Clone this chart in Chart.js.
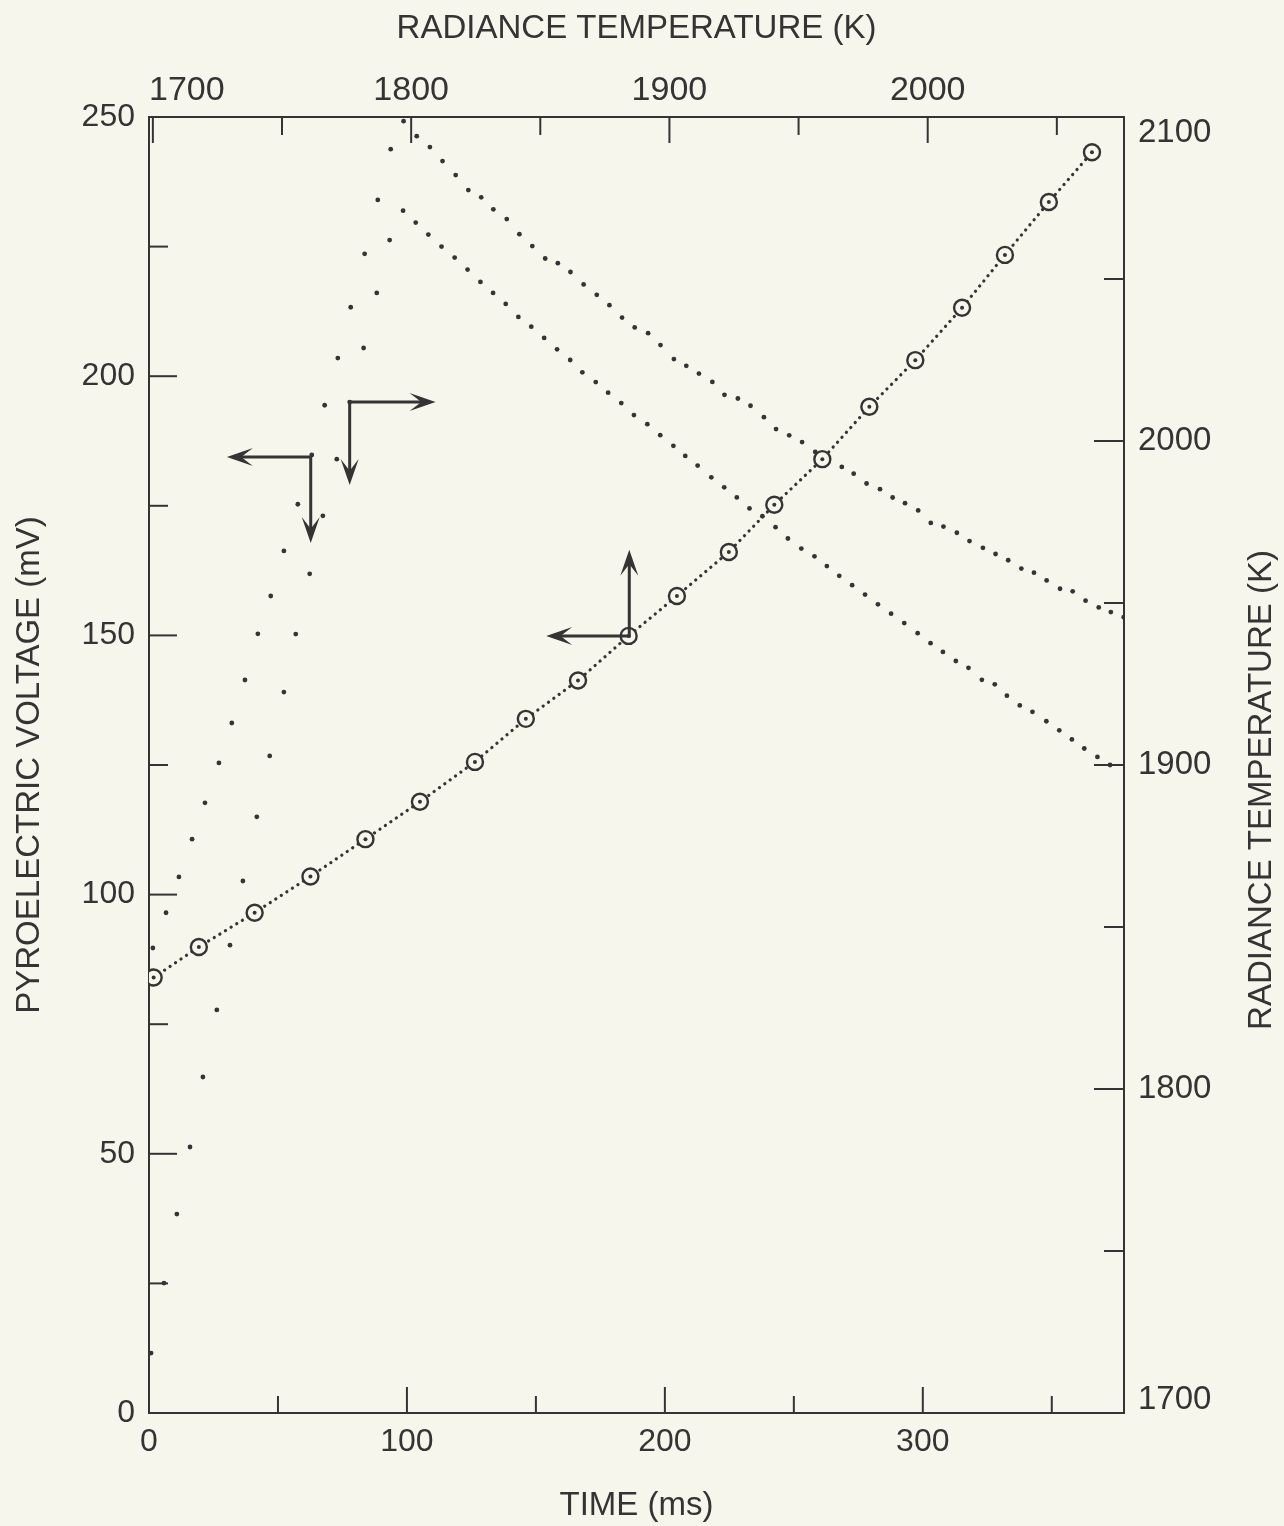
<!DOCTYPE html>
<html>
<head>
<meta charset="utf-8">
<title>Pyroelectric voltage and radiance temperature</title>
<script src="https://cdn.jsdelivr.net/npm/chart.js@4.4.1/dist/chart.umd.min.js"></script>
<style>
  html, body { margin: 0; padding: 0; background: #f7f6ec; }
  #wrap { width: 1284px; height: 1526px; }
</style>
</head>
<body>
<div id="wrap"><canvas id="chart"></canvas></div>
<script>
// pyroelectric voltage vs time (left / bottom axes)
const voltTime = [1.5, 6.6, 11.6, 16.7, 21.7, 27.1, 32.1, 37.2, 42.2, 47.2,
  52.3, 57.7, 63.1, 68.1, 73.2, 78.2, 83.6, 88.7, 93.7, 98.7,
  103.8, 108.9, 113.8, 118.9, 123.8, 128.8, 133.5, 138.7, 143.6, 148.6,
  153.6, 158.5, 163.4, 168.5, 173.6, 178.5, 183.4, 188.3, 193.5, 198.3,
  203.5, 208.3, 213.2, 218.4, 223.1, 228.3, 233.2, 238.4, 243.1, 248.2,
  253.2, 258.3, 263.3, 268.6, 273.2, 278.2, 283.4, 288.3, 293.1, 298.2,
  303.1, 308.0, 313.2, 318.1, 323.3, 328.2, 333.1, 338.2, 343.1, 348.0,
  353.2, 358.1, 363.1, 368.2, 372.9, 377.9];
const voltage = [89.7, 96.5, 103.4, 110.7, 117.7, 125.4, 133.1, 141.4, 150.3, 157.6,
  166.3, 175.3, 184.8, 194.4, 203.5, 213.3, 223.6, 234.0, 243.8, 249.2,
  246.3, 244.2, 241.5, 238.8, 235.9, 234.5, 232.2, 230.3, 227.4, 225.1,
  222.7, 221.8, 220.1, 217.7, 215.7, 213.7, 211.3, 209.4, 208.3, 206.0,
  203.3, 202.0, 200.5, 198.9, 196.4, 195.7, 194.3, 192.1, 189.8, 188.6,
  187.3, 185.4, 184.0, 182.5, 181.2, 179.3, 178.2, 176.6, 175.5, 174.1,
  171.7, 171.0, 169.8, 168.2, 166.9, 165.7, 164.5, 162.9, 162.1, 160.6,
  159.0, 158.5, 156.7, 155.4, 154.5, 153.5];

// radiance temperature vs time (right / bottom axes)
const tempTime = [0.8, 5.8, 10.8, 15.9, 20.9, 26.3, 31.4, 36.4, 41.8, 46.8,
  52.3, 56.9, 62.3, 67.4, 72.8, 77.8, 83.2, 88.3, 93.3, 98.5,
  103.4, 108.3, 113.4, 118.5, 123.5, 128.5, 133.4, 138.3, 143.2, 148.2,
  153.2, 158.2, 163.3, 168.0, 173.2, 178.0, 183.1, 188.0, 193.2, 198.2,
  203.3, 207.9, 212.7, 218.0, 223.0, 227.9, 232.8, 237.8, 242.9, 247.7,
  252.9, 258.0, 262.8, 267.6, 272.6, 277.6, 282.6, 287.7, 292.8, 298.0,
  303.0, 307.8, 312.8, 317.7, 322.9, 327.9, 332.6, 337.6, 342.5, 347.9,
  352.9, 357.8, 362.6, 367.7, 372.6];
const temperature = [1718.5, 1740.1, 1761.4, 1782.1, 1803.7, 1824.4, 1844.4, 1864.2, 1884.0, 1902.8,
  1922.5, 1940.4, 1959.0, 1976.9, 1994.4, 2012.0, 2028.7, 2045.7, 2062.0, 2071.1,
  2067.4, 2063.7, 2060.0, 2056.6, 2052.9, 2049.1, 2045.7, 2042.3, 2038.3, 2035.3,
  2031.8, 2028.3, 2025.0, 2021.2, 2018.2, 2014.9, 2011.7, 2008.0, 2005.2, 2001.8,
  1998.5, 1995.4, 1992.4, 1988.8, 1985.7, 1982.6, 1979.2, 1976.8, 1973.4, 1969.9,
  1966.8, 1964.4, 1961.4, 1958.4, 1955.5, 1952.6, 1949.6, 1946.7, 1943.8, 1940.7,
  1937.6, 1934.9, 1932.1, 1930.0, 1926.3, 1924.9, 1921.4, 1918.4, 1916.4, 1913.5,
  1910.7, 1907.9, 1905.1, 1902.5, 1900.0];

// calibration points: voltage vs radiance temperature (left / top axes)
const calTemp = [1700.3, 1717.8, 1739.4, 1761.0, 1782.3, 1803.4, 1824.7, 1844.4, 1864.6, 1884.2,
  1902.9, 1923.0, 1940.6, 1959.2, 1977.4, 1995.2, 2013.3, 2029.9, 2046.9, 2063.6];
const calVolt = [84.0, 89.9, 96.5, 103.5, 110.7, 117.9, 125.6, 133.9, 141.3, 149.9,
  157.6, 166.1, 175.2, 184.0, 194.1, 203.1, 213.2, 223.4, 233.6, 243.2];

// tick values
const timeTicks = [0, 100, 200, 300];
const timeMinor = [50, 150, 250, 350];
const topTicks = [1700, 1800, 1900, 2000];
const topMinor = [1750, 1850, 1950, 2050];
const voltTicks = [0, 50, 100, 150, 200, 250];
const voltMinor = [25, 75, 125, 175, 225];
const rightTicks = [1700, 1800, 1900, 2000, 2100];
const rightMinor = [1750, 1850, 1950, 2050];

// reading arrows: corner (time, mV), end of horizontal leg (time), end of vertical leg (mV)
const arrows = [
  { corner: [62.7, 184.4], hEnd: 30.2, vEnd: 167.8 },
  { corner: [77.8, 195.0], hEnd: 111.1, vEnd: 179.0 },
  { corner: [186.2, 149.9], hEnd: 154.0, vEnd: 166.5 }
];

const INK = '#343434';
const BG = '#f7f6ec';
const FONT = '"Liberation Sans", Arial, Helvetica, sans-serif';

const pts = (xs, ys) => xs.map((x, i) => ({ x: x, y: ys[i] }));
const fixTicks = list => scale => { scale.ticks = list.map(v => ({ value: v })); };
const plain = v => String(v);

const bgPlugin = {
  id: 'paper',
  beforeDraw(chart) {
    const ctx = chart.ctx;
    ctx.save();
    ctx.fillStyle = BG;
    ctx.fillRect(0, 0, chart.width, chart.height);
    ctx.restore();
  }
};

// ticks point into the plot; top and right labels are kept inside the frame ends
const tickPlugin = {
  id: 'inwardTicks',
  afterDraw(chart) {
    const { ctx, chartArea: a, scales } = chart;
    ctx.save();
    ctx.strokeStyle = INK;
    ctx.lineWidth = 2;
    const mark = (scale, values, len) => values.forEach(v => {
      const p = scale.getPixelForValue(v);
      ctx.beginPath();
      if (scale.position === 'bottom') { ctx.moveTo(p, a.bottom); ctx.lineTo(p, a.bottom - len); }
      if (scale.position === 'top') { ctx.moveTo(p, a.top); ctx.lineTo(p, a.top + len); }
      if (scale.position === 'left') { ctx.moveTo(a.left, p); ctx.lineTo(a.left + len, p); }
      if (scale.position === 'right') { ctx.moveTo(a.right, p); ctx.lineTo(a.right - len, p); }
      ctx.stroke();
    });
    mark(scales.x, timeTicks, 26); mark(scales.x, timeMinor, 17);
    mark(scales.x2, topTicks, 26); mark(scales.x2, topMinor, 18);
    mark(scales.y, voltTicks, 28); mark(scales.y, voltMinor, 19);
    mark(scales.y2, rightTicks, 30); mark(scales.y2, rightMinor, 20);

    ctx.fillStyle = INK;
    ctx.font = '34px ' + FONT;
    ctx.textBaseline = 'alphabetic';
    ctx.textAlign = 'center';
    topTicks.forEach(v => {
      const txt = plain(v);
      const w = ctx.measureText(txt).width;
      const p = Math.max(scales.x2.getPixelForValue(v), a.left + w / 2);
      ctx.fillText(txt, p, a.top - 17);
    });
    ctx.font = '33px ' + FONT;
    ctx.textAlign = 'left';
    ctx.textBaseline = 'middle';
    rightTicks.forEach(v => {
      const p = Math.min(Math.max(scales.y2.getPixelForValue(v), a.top + 16), a.bottom - 13);
      ctx.fillText(plain(v), a.right + 14, p);
    });

    // right axis title reads bottom to top
    ctx.textAlign = 'center';
    ctx.translate(scales.y2.right - 22, (a.top + a.bottom) / 2 + 25);
    ctx.rotate(-Math.PI / 2);
    ctx.fillText('RADIANCE TEMPERATURE (K)', 0, 0);
    ctx.restore();
  }
};

const arrowPlugin = {
  id: 'arrows',
  afterDraw(chart) {
    const { ctx, scales } = chart;
    const head = (tx, ty, dx, dy) => {
      const L = 26, W = 9, nx = -dy, ny = dx;
      ctx.beginPath();
      ctx.moveTo(tx, ty);
      ctx.lineTo(tx - L * dx + W * nx, ty - L * dy + W * ny);
      ctx.lineTo(tx - 0.55 * L * dx, ty - 0.55 * L * dy);
      ctx.lineTo(tx - L * dx - W * nx, ty - L * dy - W * ny);
      ctx.closePath();
      ctx.fill();
    };
    ctx.save();
    ctx.strokeStyle = INK;
    ctx.fillStyle = INK;
    ctx.lineWidth = 3;
    arrows.forEach(ar => {
      const cx = scales.x.getPixelForValue(ar.corner[0]);
      const cy = scales.y.getPixelForValue(ar.corner[1]);
      const hx = scales.x.getPixelForValue(ar.hEnd);
      const vy = scales.y.getPixelForValue(ar.vEnd);
      const sx = Math.sign(hx - cx), sy = Math.sign(vy - cy);
      ctx.beginPath();
      ctx.moveTo(hx - sx * 10, cy); ctx.lineTo(cx, cy); ctx.lineTo(cx, vy - sy * 10);
      ctx.stroke();
      head(hx, cy, sx, 0);
      head(cx, vy, 0, sy);
    });
    ctx.restore();
  }
};

const tickFont = { family: FONT, size: 32 };
const titleFont = { family: FONT, size: 33 };
const border = { display: true, color: INK, width: 2 };
const noGrid = { display: false, drawTicks: false };

new Chart(document.getElementById('chart'), {
  type: 'scatter',
  data: {
    datasets: [
      {
        data: pts(calTemp, calVolt), xAxisID: 'x2', yAxisID: 'y',
        showLine: false, pointRadius: 2, pointBorderWidth: 0,
        pointBackgroundColor: INK, order: 0
      },
      {
        data: pts(calTemp, calVolt), xAxisID: 'x2', yAxisID: 'y',
        showLine: true, borderColor: INK, borderWidth: 3.2,
        borderDash: [0.1, 6.5], borderCapStyle: 'round', tension: 0,
        pointRadius: 8, pointBorderWidth: 2.4, pointBorderColor: INK,
        pointBackgroundColor: BG, order: 1
      },
      {
        data: pts(voltTime, voltage), xAxisID: 'x', yAxisID: 'y',
        showLine: false, pointRadius: 2.4, pointBorderWidth: 0,
        pointBackgroundColor: INK, order: 2
      },
      {
        data: pts(tempTime, temperature), xAxisID: 'x', yAxisID: 'y2',
        showLine: false, pointRadius: 2.4, pointBorderWidth: 0,
        pointBackgroundColor: INK, order: 2
      }
    ]
  },
  options: {
    responsive: true,
    maintainAspectRatio: false,
    animation: false,
    events: [],
    layout: { padding: 0 },
    plugins: { legend: { display: false }, tooltip: { enabled: false } },
    scales: {
      x: {
        type: 'linear', position: 'bottom', min: 0, max: 378,
        afterBuildTicks: fixTicks(timeTicks),
        afterFit: s => { s.height = 113; },
        grid: noGrid, border: border,
        ticks: { font: tickFont, color: INK, padding: 10, maxRotation: 0, callback: plain },
        title: { display: true, text: 'TIME (ms)', font: titleFont, color: INK, padding: { bottom: 0 } }
      },
      x2: {
        type: 'linear', axis: 'x', position: 'top', min: 1698.5, max: 2076,
        afterBuildTicks: fixTicks(topTicks),
        afterFit: s => { s.height = 117; },
        grid: noGrid, border: border,
        ticks: { display: false },
        title: { display: true, text: 'RADIANCE TEMPERATURE (K)', font: titleFont, color: INK, padding: { top: 9 } }
      },
      y: {
        type: 'linear', position: 'left', min: 0, max: 250,
        afterBuildTicks: fixTicks(voltTicks),
        afterFit: s => { s.width = 149; },
        grid: noGrid, border: border,
        ticks: { font: tickFont, color: INK, padding: 14, callback: plain },
        title: { display: true, text: 'PYROELECTRIC VOLTAGE (mV)', font: titleFont, color: INK, padding: { top: 10 } }
      },
      y2: {
        type: 'linear', axis: 'y', position: 'right', min: 1700, max: 2100,
        afterBuildTicks: fixTicks(rightTicks),
        afterFit: s => { s.width = 160; },
        grid: noGrid, border: border,
        ticks: { display: false },
        title: { display: false }
      }
    }
  },
  plugins: [bgPlugin, tickPlugin, arrowPlugin]
});
</script>
</body>
</html>
